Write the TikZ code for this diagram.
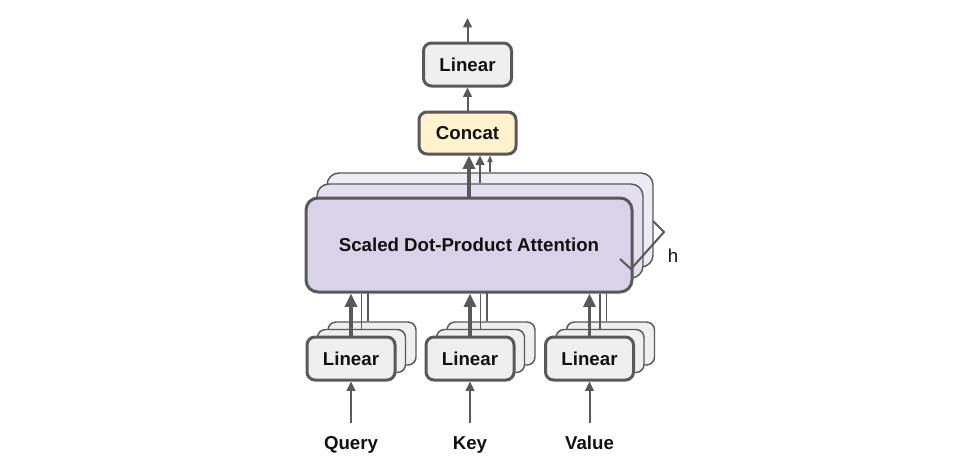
\documentclass[tikz,border=0pt]{standalone}
\usepackage{fontspec}
\setmainfont{Liberation Sans}
\usetikzlibrary{arrows.meta}
\definecolor{edgegray}{HTML}{595959}
\definecolor{textdark}{HTML}{111111}
\definecolor{linfill}{HTML}{EFEFEF}
\definecolor{catfill}{HTML}{FFF2CC}
\definecolor{attfill}{HTML}{D9D2E9}
\definecolor{attfillb}{HTML}{E3DFEE}
\definecolor{attfillc}{HTML}{EDEBF4}
\begin{document}
\begin{tikzpicture}[x=0.75pt, y=-0.75pt,
    box/.style={draw=edgegray, line width=2.25pt, rounded corners=6pt, text=textdark,
        font=\fontsize{14}{16}\selectfont\bfseries, inner sep=0pt},
    backbox/.style={box, line width=1.1pt},
    linbox/.style={box, fill=linfill, minimum width=66pt, minimum height=32.25pt},
    attbox/.style={box, rounded corners=9pt, minimum width=244.5pt, minimum height=70.5pt},
    bigarrow/.style={draw=edgegray, line width=2.4pt, -{Triangle[width=9pt, length=10pt]}},
    midarrow/.style={draw=edgegray, line width=1.5pt, -{Triangle[width=6.5pt, length=7pt]}},
    thinarrow/.style={draw=edgegray, line width=0.8pt, -{Triangle[width=4pt, length=5pt]}},
    thinline/.style={draw=edgegray, line width=0.8pt},
    label/.style={text=textdark, anchor=base, font=\fontsize{14}{16}\selectfont\bfseries}]
    \useasboundingbox (0,0) rectangle (957,464);

    % Linear layers for the inputs
    \node[linbox, backbox] (lq3) at (372,343.5) {};
    \node[linbox, backbox] (lq2) at (361.5,351) {};
    \node[linbox] (lq) at (351,358.5) {Linear};
    \node[linbox, backbox] (lk3) at (491,343.5) {};
    \node[linbox, backbox] (lk2) at (480.5,351) {};
    \node[linbox] (lk) at (470,358.5) {Linear};
    \node[linbox, backbox] (lv3) at (610.5,343.5) {};
    \node[linbox, backbox] (lv2) at (600,351) {};
    \node[linbox] (lv) at (589.5,358.5) {Linear};

    % Attention heads
    \node[attbox, backbox, rounded corners=9pt, fill=attfillc] (att3) at (490,220) {};
    \node[attbox, backbox, rounded corners=9pt, fill=attfillb] (att2) at (480,231) {};
    \node[attbox, fill=attfill] (att) at (469,245) {Scaled Dot-Product Attention};

    % Top nodes
    \node[box, fill=catfill, minimum width=72.75pt, minimum height=31.5pt] (concat) at (467.5,133) {Concat};
    \node[linbox] (lout) at (467.5,64.5) {Linear};
    \coordinate (out) at (467.5,18);

    % Inputs
    \node[label] (query) at (351,449) {Query};
    \node[label] (key) at (470,449) {Key};
    \node[label] (value) at (589.5,449) {Value};
    \coordinate (qin) at (351,423);
    \coordinate (kin) at (470,423);
    \coordinate (vin) at (589.5,423);

    % Draw connections
    \draw[midarrow] (qin) -- (lq.south);
    \draw[midarrow] (kin) -- (lk.south);
    \draw[midarrow] (vin) -- (lv.south);

    \draw[bigarrow] (lq.north) -- (lq.north |- att.south);
    \draw[bigarrow] (lk.north) -- (lk.north |- att.south);
    \draw[bigarrow] (lv.north) -- (lv.north |- att.south);
    \draw[thinline] (lq2.north) -- (lq2.north |- att.south);
    \draw[thinline] (lq3.north) ++(-4,0) -- +(0,-30);
    \draw[thinline] (lk2.north) -- (lk2.north |- att.south);
    \draw[thinline] (lk3.north) ++(-4,0) -- +(0,-30);
    \draw[thinline] (lv2.north) -- (lv2.north |- att.south);
    \draw[thinline] (lv3.north) ++(-4,0) -- +(0,-30);

    \draw[bigarrow] (att.north) -- (att.north |- concat.south);
    \draw[midarrow] (att2.north) -- (att2.north |- concat.south);
    \draw[thinarrow] (att3.north) -- (att3.north |- concat.south);

    \draw[midarrow] (concat.north) -- (lout.south);
    \draw[midarrow] (lout.north) -- (out);

    % Bracket for the heads
    \draw[edgegray, line width=1.5pt] (620,259) -- (631,269) -- (664,232) -- (653,221);
    \node[text=textdark, font=\fontsize{14}{16}\selectfont] (hlabel) at (673,256) {h};
\end{tikzpicture}
\end{document}
